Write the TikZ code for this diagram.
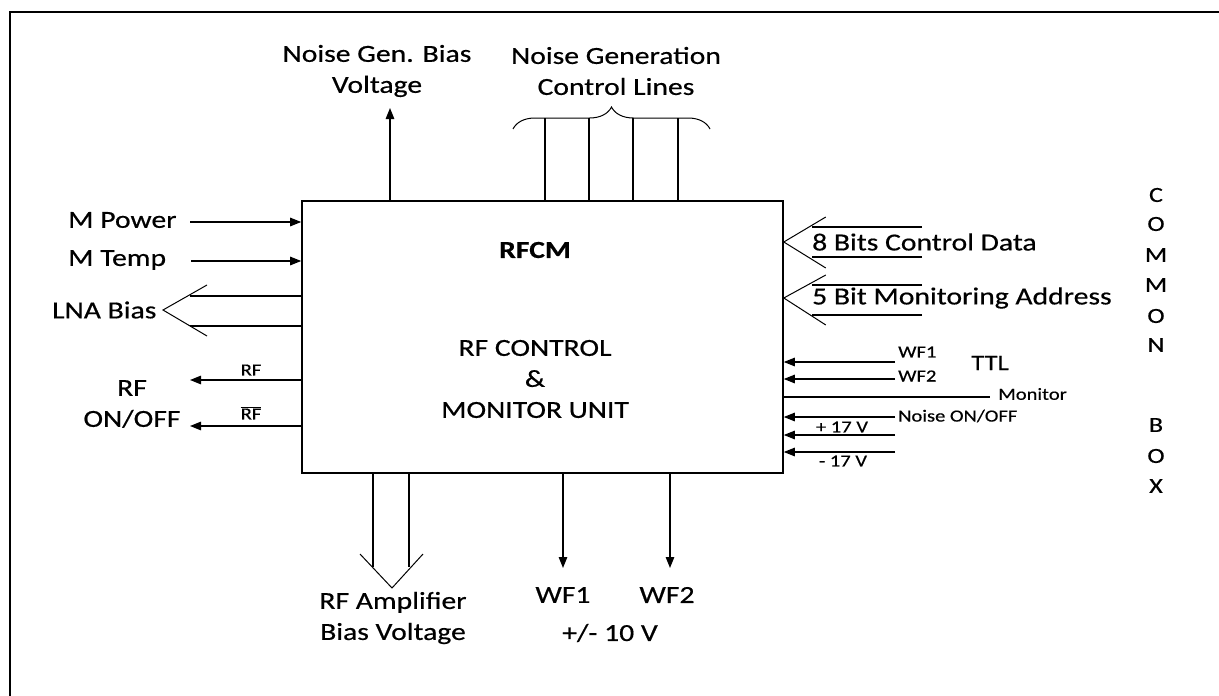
\documentclass[tikz,border=0pt]{standalone}
\usepackage{fontspec}
\setmainfont[FakeStretch=1.21, FakeBold=0.5]{Carlito}
\usetikzlibrary{arrows.meta,positioning,decorations.pathreplacing}

\begin{document}
\begin{tikzpicture}[
            x=1pt, y=-1pt,
            big/.style={font=\fontsize{24.5}{31}\selectfont, align=center, inner sep=0pt},
            mid/.style={font=\fontsize{22}{24}\selectfont, inner sep=0pt},
            small/.style={font=\fontsize{17}{19}\selectfont, inner sep=0pt},
            letter/.style={font=\fontsize{21.5}{23}\selectfont, inner sep=0pt},
            wire/.style={line width=1.3pt},
            arrow/.style={wire, -{Triangle[length=11pt, width=8.5pt]}},
            chev/.style={line width=1pt, line join=miter}
        ]
        \useasboundingbox (0,0) rectangle (1219,696);
        \draw[line width=2.6pt] (10,696) -- (10,12) -- (1219,12);

        \node[draw, line width=1.6pt, minimum width=481pt, minimum height=272pt, inner sep=0pt] (rfcm) at (542.5,337) {};
        \node[big, font=\fontsize{24.5}{31}\selectfont\bfseries] (title) at (535,250) {RFCM};
        \node[big] (unit) at (535,379) {RF CONTROL\\\&\\MONITOR UNIT};

        % top
        \node[big] (ngbias) at (377,71) {Noise Gen. Bias\\Voltage};
        \coordinate (ngtip) at (390,108);
        \draw[arrow] (ngtip |- rfcm.north) -- (ngtip);
        \node[big] (ngctl) at (616,71) {Noise Generation\\Control Lines};
        \coordinate (brl) at (513,129);
        \coordinate (brr) at (710,129);
        \draw[decorate, decoration={brace, amplitude=22pt, aspect=0.5}, line width=1pt] (brl) -- (brr);
        \foreach \cx [count=\i] in {545,589,633,678} {
            \coordinate (cl\i) at (\cx,118);
            \draw[wire] (cl\i) -- (cl\i |- rfcm.north);
        }

        % left
        \node[big, anchor=west] (mpow) at (68,220) {M Power};
        \coordinate (mpowin) at (190,222);
        \draw[arrow] (mpowin) -- (mpowin -| rfcm.west);
        \node[big, anchor=west] (mtemp) at (68,260) {M Temp};
        \coordinate (mtempin) at (191,261);
        \draw[arrow] (mtempin) -- (mtempin -| rfcm.west);
        \node[big, anchor=west] (lna) at (52,310) {LNA Bias};
        \coordinate (lna1) at (190,296);
        \coordinate (lna2) at (190,326);
        \draw[wire] (lna1 -| rfcm.west) -- (lna1);
        \draw[wire] (lna2 -| rfcm.west) -- (lna2);
        \coordinate (lnatip) at (163,310);
        \draw[chev] ([shift={(44,-25)}]lnatip) -- (lnatip) -- ([shift={(44,26)}]lnatip);
        \coordinate (rfout) at (190,380);
        \coordinate (rfnout) at (190,426);
        \draw[arrow] (rfout -| rfcm.west) -- (rfout);
        \draw[arrow] (rfnout -| rfcm.west) -- (rfnout);
        \node[small] (rflbl) at (251,370) {RF};
        \node[small] (rfnlbl) at (251,413) {$\overline{\mbox{RF}}$};
        \node[big] (rfonoff) at (132,404) {RF\\ON/OFF};

        % right
        \node[big, anchor=west] (ctrl) at (812,242) {8 Bits Control Data};
        \coordinate (ctrl1) at (922,227);
        \coordinate (ctrl2) at (922,257);
        \draw[wire] (ctrl1) -- ++(-110,0);
        \draw[wire] (ctrl2) -- ++(-110,0);
        \coordinate (ctrltip) at (rfcm.east |- ctrl);
        \draw[chev] ([shift={(42,-25)}]ctrltip) -- (ctrltip) -- ([shift={(42,26)}]ctrltip);
        \node[big, anchor=west] (addr) at (812,298) {5 Bit Monitoring Address};
        \coordinate (addr1) at (922,285);
        \coordinate (addr2) at (922,315);
        \draw[wire] (addr1) -- ++(-110,0);
        \draw[wire] (addr2) -- ++(-110,0);
        \coordinate (addrtip) at (rfcm.east |- addr);
        \draw[chev] ([shift={(42,-23)}]addrtip) -- (addrtip) -- ([shift={(42,27)}]addrtip);

        \coordinate (wf1in) at (895,362);
        \coordinate (wf2in) at (895,379);
        \coordinate (monout) at (990,397);
        \coordinate (noisein) at (895,417);
        \coordinate (ppin) at (895,435);
        \coordinate (pnin) at (895,452);
        \draw[arrow] (wf1in) -- (wf1in -| rfcm.east);
        \draw[arrow] (wf2in) -- (wf2in -| rfcm.east);
        \draw[wire] (monout -| rfcm.east) -- (monout);
        \draw[arrow] (noisein) -- (noisein -| rfcm.east);
        \draw[arrow] (ppin) -- (ppin -| rfcm.east);
        \draw[arrow] (pnin) -- (pnin -| rfcm.east);
        \node[small, anchor=west] (wf1lbl) at (898,352) {WF1};
        \node[small, anchor=west] (wf2lbl) at (898,376) {WF2};
        \node[mid] (ttl) at (990,363) {TTL};
        \node[small, anchor=west] (monlbl) at (998,394) {Monitor};
        \node[small, anchor=west] (noiselbl) at (898,416) {Noise ON/OFF};
        \node[small] (pplbl) at (842,427) {+ 17 V};
        \node[small] (pnlbl) at (843,461) {- 17 V};

        \foreach \ch/\cy [count=\i] in {C/195,O/224,M/255,M/285,O/316,N/345,B/425,O/456,X/486}
            \node[letter] (cb\i) at (1156,\cy) {\ch};

        % bottom
        \coordinate (amp1) at (373,567);
        \coordinate (amp2) at (409,567);
        \draw[wire] (amp1 |- rfcm.south) -- (amp1);
        \draw[wire] (amp2 |- rfcm.south) -- (amp2);
        \coordinate (amptip) at (392,588);
        \draw[chev] ([shift={(-32,-34)}]amptip) -- (amptip) -- ([shift={(31,-34)}]amptip);
        \node[big] (amplbl) at (393,618) {RF Amplifier\\Bias Voltage};
        \coordinate (wf1out) at (563,568);
        \coordinate (wf2out) at (670,568);
        \draw[arrow] (wf1out |- rfcm.south) -- (wf1out);
        \draw[arrow] (wf2out |- rfcm.south) -- (wf2out);
        \node[big] (wf1lblb) at (563,595) {WF1};
        \node[big] (wf2lblb) at (667,595) {WF2};
        \node[big] (volt) at (610,633) {+/- 10 V};
        \end{tikzpicture}
\end{document}
